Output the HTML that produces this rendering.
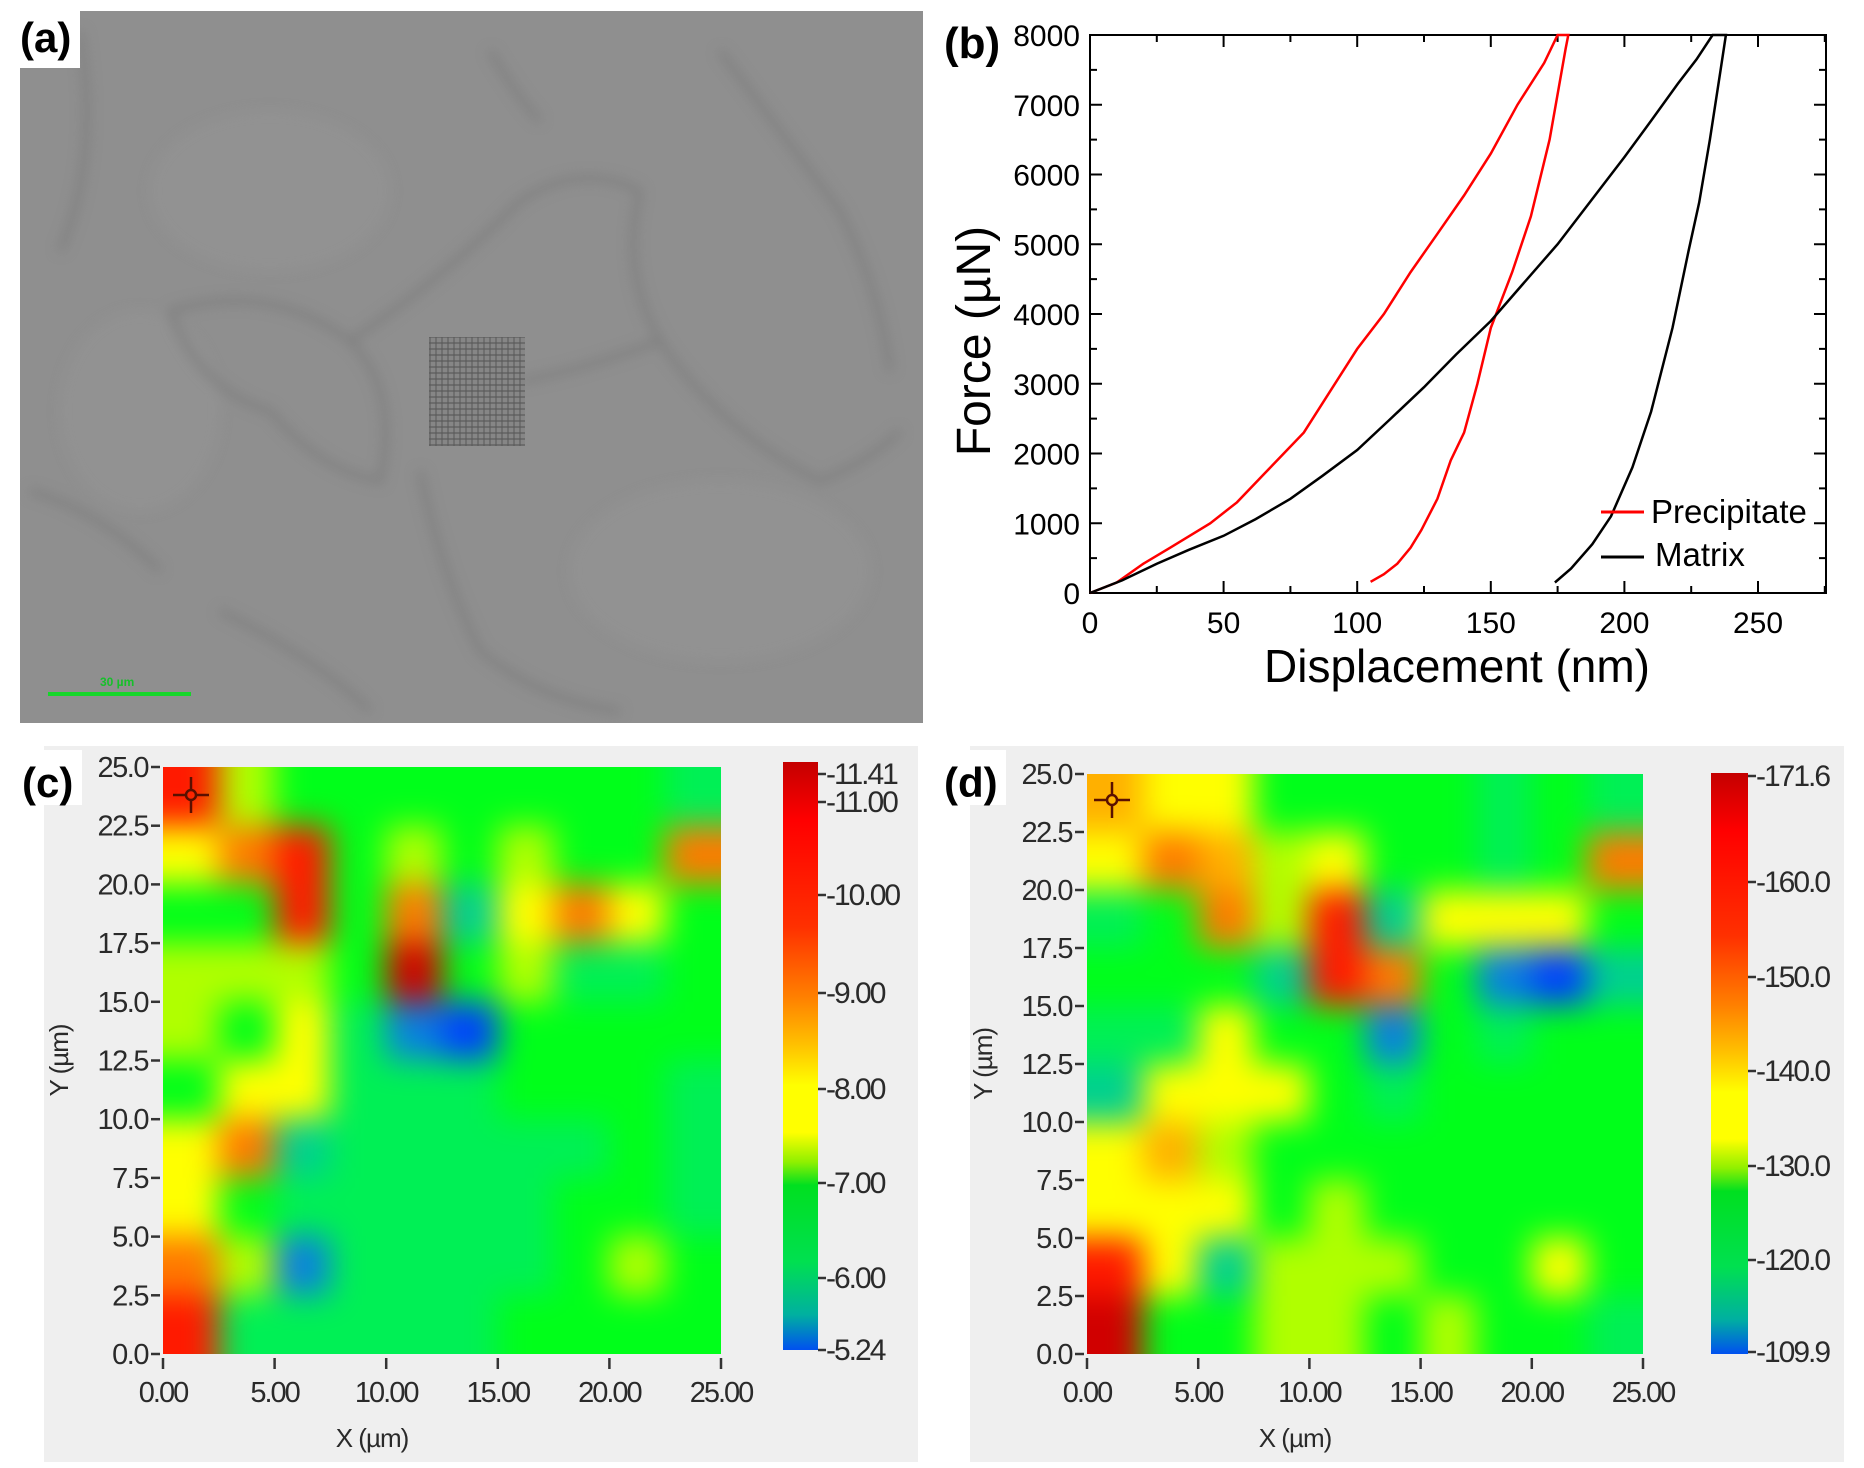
<!DOCTYPE html>
<html><head><meta charset="utf-8">
<style>
html,body{margin:0;padding:0;background:#fff;}
body{width:1864px;height:1468px;position:relative;overflow:hidden;font-family:"Liberation Sans",sans-serif;}
.abs{position:absolute;}
.hm{position:absolute;overflow:hidden;}
.hm .in{position:absolute;display:grid;filter:blur(16px);}
svg{position:absolute;left:0;top:0;}
</style></head><body>

<!-- panel a -->
<div class="abs" style="left:20px;top:11px;width:903px;height:712px;background:#8f8f8f;overflow:hidden;">
<svg width="903" height="712" style="filter:blur(6px)">
<g fill="#989898" opacity="0.35">
<ellipse cx="250" cy="180" rx="120" ry="80"/>
<ellipse cx="700" cy="560" rx="150" ry="90"/>
<ellipse cx="120" cy="400" rx="80" ry="100"/>
</g>
<g fill="none" stroke="#7b7b7b" stroke-width="6" opacity="0.8">
<path d="M60 20 Q80 150 40 240"/>
<path d="M150 300 Q250 270 330 330 Q380 380 360 470 Q300 460 250 400 Q180 380 150 300"/>
<path d="M330 330 Q420 270 500 190 Q560 150 620 180"/>
<path d="M620 180 Q600 260 640 330 Q700 420 800 470 Q850 450 880 420"/>
<path d="M640 330 Q560 360 500 370"/>
<path d="M400 460 Q420 560 460 640 Q520 690 600 700"/>
<path d="M700 40 Q760 120 820 200 Q860 280 870 360"/>
<path d="M10 480 Q80 500 140 560"/>
<path d="M200 600 Q300 650 350 700"/>
<path d="M470 40 Q500 90 520 110"/>
</g>
</svg>
<div class="abs" style="left:409px;top:326px;width:96px;height:109px;background:repeating-linear-gradient(90deg,#6a6a6a 0 2px,#858585 2px 6px),#777;opacity:0.85;"></div>
<div class="abs" style="left:409px;top:326px;width:96px;height:109px;background:repeating-linear-gradient(0deg,rgba(90,90,90,0.6) 0 2px,transparent 2px 6px);"></div>
<div class="abs" style="left:28px;top:681px;width:143px;height:4px;background:#16d62a;"></div>
<div class="abs" style="left:80px;top:664px;font-size:12px;color:#16c02a;font-weight:bold;">30 µm</div>
</div>
<div class="abs" style="left:20px;top:11px;width:60px;height:57px;background:#fff;"></div>
<div class="abs" style="left:20px;top:14px;font-size:42px;font-weight:bold;">(a)</div>

<!-- panel c/d backgrounds -->
<div class="abs" style="left:44px;top:746px;width:874px;height:716px;background:#efefef;"></div>
<div class="abs" style="left:970px;top:746px;width:874px;height:716px;background:#efefef;"></div>
<div class="abs" style="left:20px;top:750px;width:62px;height:55px;background:#fff;"></div>
<div class="abs" style="left:944px;top:750px;width:62px;height:55px;background:#fff;"></div>

<div class="hm" id="hc" style="left:163px;top:767px;width:558px;height:587px;"></div>
<div class="hm" id="hd" style="left:1087px;top:774px;width:556px;height:580px;"></div>

<!-- colorbars -->
<div class="abs" style="left:783px;top:762px;width:35px;height:588px;background:linear-gradient(#c40000 0%,#ff0000 10%,#ff3000 28%,#ff8000 40%,#ffc000 48%,#ffff00 55%,#ffff00 63%,#90f000 68%,#00e020 72%,#00e050 85%,#00b0a0 94%,#0050f0 100%);"></div>
<div class="abs" style="left:1711px;top:773px;width:37px;height:581px;background:linear-gradient(#c40000 0%,#ff0000 10%,#ff3000 28%,#ff8000 40%,#ffc000 48%,#ffff00 55%,#ffff00 63%,#90f000 68%,#00e020 72%,#00e050 85%,#00b0a0 94%,#0050f0 100%);"></div>

<svg width="1864" height="1468" viewBox="0 0 1864 1468">
<!-- panel b -->
<g font-family="Liberation Sans, sans-serif">
<text x="944" y="58" font-size="44" font-weight="bold">(b)</text>
<rect x="1090" y="35" width="736" height="558" fill="none" stroke="#000" stroke-width="2"/>
<g stroke="#000" stroke-width="2" id="bt"></g>
<g font-size="30" text-anchor="end" id="byl"></g>
<g font-size="30" text-anchor="middle" id="bxl"></g>
<text transform="translate(990,341) rotate(-90)" font-size="48" text-anchor="middle">Force (µN)</text>
<text x="1457" y="682" font-size="46" text-anchor="middle">Displacement (nm)</text>
<polyline id="pl" fill="none" stroke="#f00" stroke-width="2.5"/>
<polyline id="ml" fill="none" stroke="#000" stroke-width="2.5"/>
<line x1="1601" y1="512" x2="1644" y2="512" stroke="#f00" stroke-width="3"/>
<line x1="1601" y1="557" x2="1644" y2="557" stroke="#000" stroke-width="3"/>
<text x="1651" y="523" font-size="33">Precipitate</text>
<text x="1655" y="566" font-size="33">Matrix</text>
</g>
<!-- heatmap axes -->
<g font-family="Liberation Sans, sans-serif" fill="#2a2a2a" id="hax"></g>
<!-- crosshairs -->
<g stroke="#5a1000" stroke-width="2.5" fill="none">
<circle cx="191" cy="795" r="5"/><line x1="173" y1="795" x2="185" y2="795"/><line x1="197" y1="795" x2="209" y2="795"/><line x1="191" y1="777" x2="191" y2="789"/><line x1="191" y1="801" x2="191" y2="813"/>
<circle cx="1112" cy="800" r="5"/><line x1="1094" y1="800" x2="1106" y2="800"/><line x1="1118" y1="800" x2="1130" y2="800"/><line x1="1112" y1="782" x2="1112" y2="794"/><line x1="1112" y1="806" x2="1112" y2="818"/>
</g>
<text x="22" y="797" font-size="42" font-weight="bold" font-family="Liberation Sans, sans-serif">(c)</text>
<text x="944" y="797" font-size="42" font-weight="bold" font-family="Liberation Sans, sans-serif">(d)</text>
</svg>

<script>
var col={R:'#ff1a00',D:'#d00000',O:'#ff7a00',o:'#ffb000',Y:'#ffff00',L:'#b0ff00',G:'#00ff1a',T:'#00f055',C:'#00d090',B:'#0040ff',b:'#0a80e0'};
var gc=["RLGGGGGGGT","YORGLGLGGO","GGRGOCYOYG","LLLGDGLTTG","LGYTbBGGGG","GYYTTTGGGT","YOCTTTTTGT","YGTTTTTGGT","OLbTTTTGLG","RTTTTTGGGG"];
var gd=["oYYGGGGTGT","YOoLYGGTGO","TGOLRCYYYG","GGGCROGbBC","TTYGGbGTGG","CYYYGTGGGG","YoLGGGGGGG","YYYGLGGGGG","RYCLLLGGYG","DGGLLGLGGT"];
function hm(id,g,w,h){var el=document.getElementById(id);var cw=w/10,ch=h/10;
var d=document.createElement('div');d.className='in';
d.style.left=(-2*cw)+'px';d.style.top=(-2*ch)+'px';
d.style.gridTemplateColumns='repeat(14,'+cw+'px)';d.style.gridTemplateRows='repeat(14,'+ch+'px)';
for(var r=0;r<14;r++)for(var c=0;c<14;c++){var rr=Math.min(9,Math.max(0,r-2)),cc=Math.min(9,Math.max(0,c-2));
var s=document.createElement('div');s.style.background=col[g[rr][cc]];d.appendChild(s);}
el.appendChild(d);}
hm('hc',gc,558,587);hm('hd',gd,556,580);

var NS='http://www.w3.org/2000/svg';
function T(p,x,y,t,a,fs,extra){var e=document.createElementNS(NS,'text');e.setAttribute('x',x);e.setAttribute('y',y);e.setAttribute('font-size',fs);if(a)e.setAttribute('text-anchor',a);if(extra)for(var k in extra)e.setAttribute(k,extra[k]);e.textContent=t;p.appendChild(e);}
function L(p,x1,y1,x2,y2,st,sw){var e=document.createElementNS(NS,'line');e.setAttribute('x1',x1);e.setAttribute('y1',y1);e.setAttribute('x2',x2);e.setAttribute('y2',y2);e.setAttribute('stroke',st||'#000');e.setAttribute('stroke-width',sw||2);p.appendChild(e);}
var bt=document.getElementById('bt'),byl=document.getElementById('byl'),bxl=document.getElementById('bxl');
function X(v){return 1090+v*2.672;}function Y(v){return 593-v*0.06975;}
for(var v=0;v<=8000;v+=500){var y=Y(v),len=(v%1000==0)?12:7;L(bt,1090,y,1090+len,y);L(bt,1826,y,1826-len,y);if(v%1000==0)T(byl,1080,y+11,String(v));}
for(var v=0;v<=275;v+=25){var x=X(v),len=(v%50==0)?12:7;L(bt,x,593,x,593-len);L(bt,x,35,x,35+len);if(v%50==0&&v<=250)T(bxl,x,633,String(v));}
function pts(a){return a.map(function(p){return X(p[0]).toFixed(1)+','+Y(p[1]).toFixed(1)}).join(' ');}
document.getElementById('pl').setAttribute('points',pts([[0,0],[10,150],[20,420],[30,650],[45,1000],[55,1300],[65,1700],[80,2300],[90,2900],[100,3500],[110,4000],[120,4600],[130,5150],[140,5700],[150,6300],[160,7000],[170,7600],[175,8000],[179,8000],[178,7800],[172,6500],[165,5400],[158,4600],[150,3800],[145,3000],[140,2300],[135,1900],[130,1350],[124,900],[120,650],[115,420],[110,270],[105,160]]));
document.getElementById('ml').setAttribute('points',pts([[0,0],[12,180],[25,420],[37,620],[50,820],[62,1060],[75,1350],[87,1680],[100,2050],[112,2480],[125,2950],[137,3420],[150,3900],[162,4430],[175,5000],[187,5600],[200,6250],[210,6770],[220,7300],[227,7650],[233,8000],[238,8000],[236,7500],[232,6500],[228,5600],[224,4900],[218,3800],[210,2600],[203,1800],[195,1100],[188,700],[180,350],[174,150]]));

var hax=document.getElementById('hax');
function axes(px,py,w,h,cbx,cbLabels){
 var yl=['25.0','22.5','20.0','17.5','15.0','12.5','10.0','7.5','5.0','2.5','0.0'];
 for(var i=0;i<=10;i++){var y=py+h*i/10;L(hax,px-12,y,px-3,y,'#333',2.5);T(hax,px-15,y+10,yl[i],'end',29,{'letter-spacing':'-1.5'});}
 for(var i=0;i<=5;i++){var x=px+w*i/5;L(hax,x,py+h+4,x,py+h+15,'#333',2.5);T(hax,x,py+h+48,(i*5).toFixed(2),'middle',29,{'letter-spacing':'-2'});}
 T(hax,px+w/2-70,py+h+93,'X (µm)','middle',26,{'letter-spacing':'-1'});
 T(hax,0,0,'Y (µm)','middle',26,{'transform':'translate('+(px-95)+','+(py+h/2)+') rotate(-90)','letter-spacing':'-1'});
 cbLabels.forEach(function(c){L(hax,cbx,c[1],cbx+8,c[1],'#333',2.5);T(hax,cbx+8,c[1]+10,c[0],'start',30,{'letter-spacing':'-2'});});
}
axes(163,767,558,587,818,[['-11.41',774],['-11.00',802],['-10.00',895],['-9.00',993],['-8.00',1089],['-7.00',1183],['-6.00',1278],['-5.24',1350]]);
axes(1087,774,556,580,1748,[['-171.6',776],['-160.0',882],['-150.0',977],['-140.0',1071],['-130.0',1166],['-120.0',1260],['-109.9',1352]]);
</script>
</body></html>
